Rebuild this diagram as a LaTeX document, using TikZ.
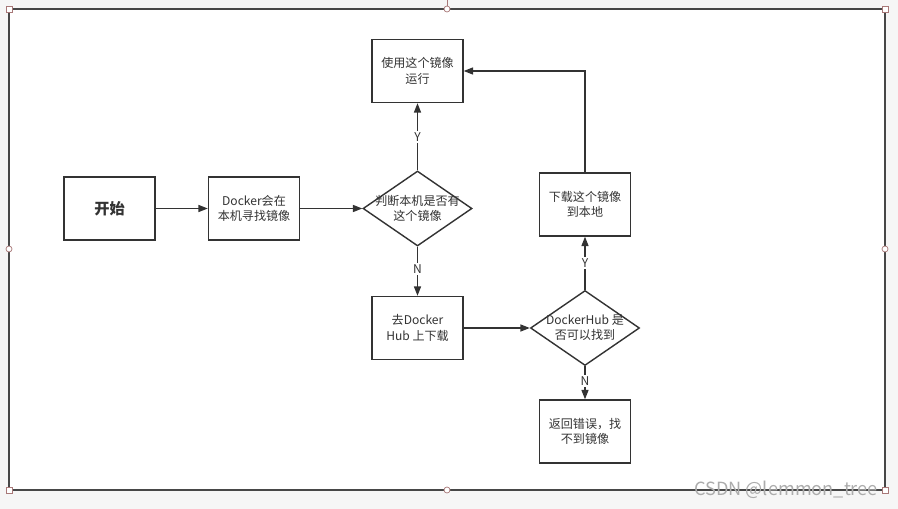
\documentclass[tikz,border=0pt]{standalone}
\usepackage{fontspec}
\setmainfont{Noto Sans CJK SC}
\usetikzlibrary{arrows.meta,shapes.geometric}
\definecolor{ink}{HTML}{333333}
\definecolor{handle}{HTML}{A87878}
\definecolor{paper}{HTML}{F6F6F6}

\begin{document}
\begin{tikzpicture}[x=0.03cm,y=-0.03cm,font=\fontsize{10.3}{13}\selectfont]

	\tikzstyle box=[draw=ink, line width=1.2pt, fill=white, text=ink, align=center,
		minimum width=2.73cm, minimum height=1.89cm, inner sep=1pt];
	\tikzstyle choice=[draw=ink, line width=1.2pt, fill=white, text=ink, align=center,
		diamond, minimum width=3.27cm, minimum height=2.25cm, inner sep=-4.5pt, aspect=1.45];
	\tikzstyle flow=[draw=ink, line width=1.2pt, -{Triangle[length=8pt,width=6pt]}];
	\tikzstyle answer=[fill=white, text=ink, inner sep=1.5pt];

	\useasboundingbox (0,0) rectangle (898,509);
	\fill[paper] (0,0) rectangle (898,509);
	\fill[white] (9,9) rectangle (885,490);
	\draw[handle, line width=0.6pt] (447,0) -- (447,9);
	\draw[ink!90, line width=1.5pt] (9,9) rectangle (885,490);

	% selection handles
	\foreach \x/\y in {9/9,885/9,9/490,885/490}
		\draw[handle, fill=white, line width=0.6pt] (\x-3,\y-3) rectangle (\x+3,\y+3);
	\foreach \x/\y in {447/9,9/249,885/249,447/490}
		\draw[handle, fill=white, line width=0.6pt] (\x,\y) circle (3);

		\node[box, font=\fontsize{13}{15}\selectfont\bfseries] (start) at (109.5,208.5) {开始};
		\node[box] (search) at (254,208.5) {Docker会在\\本机寻找镜像};
		\node[choice] (check) at (417.5,208.5) {判断本机是否有\\这个镜像};
		\node[box] (run) at (417.5,71) {使用这个镜像\\运行};
		\node[box] (pull) at (417.5,328) {去Docker\\Hub 上下载};
		\node[choice] (hub) at (585,328) {DockerHub 是\\否可以找到};
		\node[box] (download) at (585,204.5) {下载这个镜像\\到本地};
		\node[box] (error) at (585,431.5) {返回错误，找\\不到镜像};

		\draw[flow] (start) -- (search);
		\draw[flow] (search) -- (check);
		\draw[flow] (check) -- node[answer] {Y} (run);
		\draw[flow] (check) -- node[answer, pos=0.45] {N} (pull);
		\draw[flow] (pull) -- (hub);
		\draw[flow] (hub) -- node[answer] {Y} (download);
		\draw[flow] (hub) -- node[answer, pos=0.45] {N} (error);
		\draw[flow] (download.north) |- (run.east);

	\node[text=gray!65, font=\fontsize{15.5}{17}\selectfont, anchor=east] (mark) at (882,490) {CSDN @lemmon\_tree};

\end{tikzpicture}
\end{document}
